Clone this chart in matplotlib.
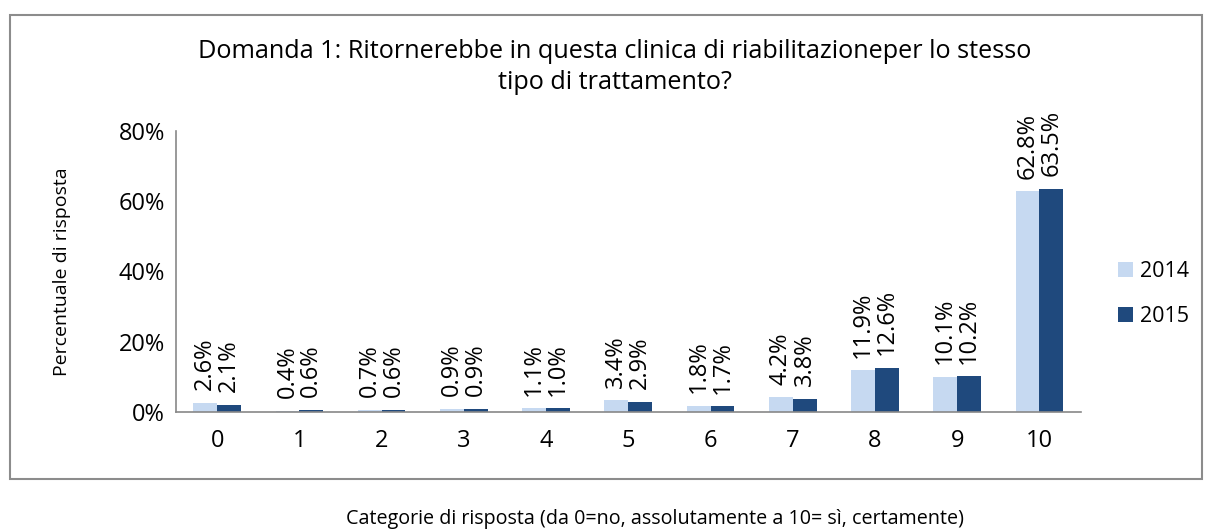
import numpy as np
import matplotlib.pyplot as plt
from matplotlib.patches import Rectangle
from matplotlib.ticker import PercentFormatter

plt.rcParams['font.family'] = ['Open Sans', 'DejaVu Sans']

categories = ['0', '1', '2', '3', '4', '5', '6', '7', '8', '9', '10']
vals_2014 = [2.6, 0.4, 0.7, 0.9, 1.1, 3.4, 1.8, 4.2, 11.9, 10.1, 62.8]
vals_2015 = [2.1, 0.6, 0.6, 0.9, 1.0, 2.9, 1.7, 3.8, 12.6, 10.2, 63.5]
years = ['2014', '2015']
colors = ['#C6D9F1', '#1F497D']

fig = plt.figure(figsize=(12.06, 5.29), dpi=100)
ax = fig.add_axes([0.146, 0.2212, 0.75, 0.5312])

x = np.arange(len(categories))
w = 0.29
b1 = ax.bar(x - w / 2, vals_2014, w, color=colors[0], label=years[0])
b2 = ax.bar(x + w / 2, vals_2015, w, color=colors[1], label=years[1])

# rotated value labels above each bar
for bars, vals in ((b1, vals_2014), (b2, vals_2015)):
    for rect, v in zip(bars, vals):
        ax.annotate('%.1f%%' % v, (rect.get_x() + rect.get_width() / 2, v),
                    xytext=(0, 9), textcoords='offset points',
                    rotation=90, ha='center', va='bottom', fontsize=17)

ax.set_xlim(-0.5, 10.5)
ax.set_ylim(0, 80)
ax.set_yticks([0, 20, 40, 60, 80])
ax.yaxis.set_major_formatter(PercentFormatter(decimals=0))
ax.set_xticks(x)
ax.set_xticklabels(categories)
ax.tick_params(length=0, labelsize=17, pad=12)
ax.tick_params(axis='y', pad=8)
for s in ['top', 'right']:
    ax.spines[s].set_visible(False)
for s in ['left', 'bottom']:
    ax.spines[s].set_color('#888888')
    ax.spines[s].set_linewidth(1.2)

ax.set_ylabel('Percentuale di risposta', fontsize=14, labelpad=34)

fig.text(0.51, 0.873, 'Domanda 1: Ritornerebbe in questa clinica di riabilitazioneper lo stesso\ntipo di trattamento?',
         ha='center', va='center', fontsize=18.2, linespacing=1.3)

fig.text(0.543, 0.018, 'Categorie di risposta (da 0=no, assolutamente a 10= sì, certamente)',
         ha='center', va='center', fontsize=14.2)

ax.legend(loc='center left', bbox_to_anchor=(1.02, 0.42), frameon=False,
          fontsize=15.5, handlelength=0.7, handleheight=0.7, handletextpad=0.3,
          labelspacing=1.1)

fig.patches.append(Rectangle((10 / 1206, 1 - 479 / 529), 1192 / 1206, 464 / 529,
                             transform=fig.transFigure, fill=False,
                             edgecolor='#8C8C8C', linewidth=1.5))

fig.savefig('out.png', dpi=100)
